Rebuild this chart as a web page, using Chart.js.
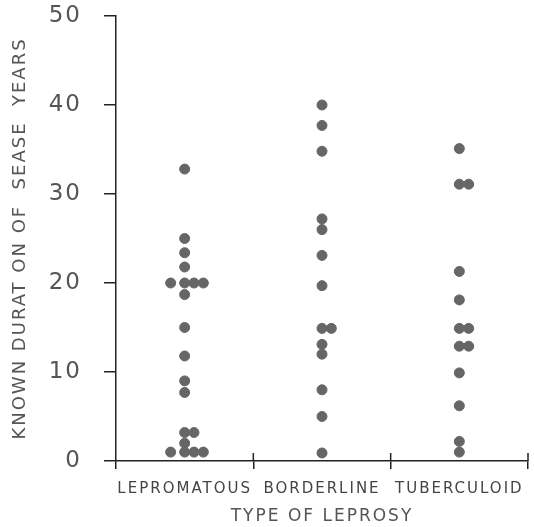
<!DOCTYPE html>
<html>
<head>
<meta charset="utf-8">
<script src="https://cdn.jsdelivr.net/npm/chart.js@4"></script>
<style>
  html, body { margin: 0; padding: 0; background: #fff; }
  #wrap { width: 534px; height: 527px; }
</style>
</head>
<body>
<div id="wrap"><canvas id="c"></canvas></div>
<script>
// categories and values (years)
var categories = ['LEPROMATOUS', 'BORDERLINE', 'TUBERCULOID'];
var lepromatous = [32.8, 25, 23.4, 21.8, 20, 20, 20, 20, 18.7, 15, 11.8, 9, 7.7, 3.2, 3.2, 2, 1, 1, 1, 1];
var borderline = [40, 37.7, 34.8, 27.2, 26, 23.1, 19.7, 14.9, 14.9, 13.1, 12, 8, 5, 0.9];
var tuberculoid = [35.1, 31.1, 31.1, 21.3, 18.1, 14.9, 14.9, 12.9, 12.9, 9.9, 6.2, 2.2, 1];
var yTicks = [0, 10, 20, 30, 40, 50];

// tied values are spread sideways: centre, right, right, left
var jitter = [0, 1, 2, -1.5];
var jitterStep = 0.068;

function toPoints(values, catIndex) {
  var seen = {};
  return values.map(function (v) {
    var k = seen[v] || 0;
    seen[v] = k + 1;
    return { x: catIndex + 1 + jitter[k % jitter.length] * jitterStep, y: v };
  });
}

var allSeries = [lepromatous, borderline, tuberculoid];
var pts = [];
allSeries.forEach(function (vals, i) { pts = pts.concat(toPoints(vals, i)); });

var axisColor = '#222';
var textColor = '#555';

// little marks that cross the x axis upward at the category borders
var crossTicks = {
  id: 'crossTicks',
  afterDraw: function (chart) {
    var xs = chart.scales.x, ctx = chart.ctx, bottom = chart.chartArea.bottom;
    ctx.save();
    ctx.strokeStyle = axisColor;
    ctx.lineWidth = 1.5;
    [1.5, 2.5, 3.5].forEach(function (v) {
      var px = xs.getPixelForValue(v);
      ctx.beginPath();
      ctx.moveTo(px, bottom - 8);
      ctx.lineTo(px, bottom);
      ctx.stroke();
    });
    ctx.restore();
  }
};

var spacing = {
  id: 'spacing',
  beforeDraw: function (chart) { chart.ctx.letterSpacing = '2px'; }
};

new Chart(document.getElementById('c'), {
  type: 'scatter',
  data: {
    datasets: [{
      data: pts,
      backgroundColor: '#666',
      borderColor: '#666',
      pointRadius: 5,
      pointHoverRadius: 5
    }]
  },
  plugins: [spacing, crossTicks],
  options: {
    responsive: true,
    maintainAspectRatio: false,
    animation: false,
    layout: { padding: { top: 16, right: 4, left: 0, bottom: 0 } },
    plugins: { legend: { display: false }, tooltip: { enabled: false } },
    scales: {
      x: {
        type: 'linear',
        min: 0.5,
        max: 3.5,
        afterBuildTicks: function (scale) {
          scale.ticks = categories.map(function (c, i) { return { value: i + 1 }; });
        },
        afterFit: function (scale) {
          scale.height = 66;
          scale.paddingLeft = 0;
          scale.paddingRight = 0;
        },
        ticks: {
          color: '#444',
          padding: 11,
          maxRotation: 0,
          autoSkip: false,
          font: { family: 'DejaVu Sans', size: 15 },
          callback: function (v) { return categories[v - 1]; }
        },
        grid: { offset: true, drawOnChartArea: false, tickLength: 8, color: axisColor, lineWidth: 1.5 },
        border: { color: axisColor, width: 1.5 },
        title: {
          display: true,
          text: 'TYPE OF LEPROSY',
          color: textColor,
          padding: { top: 0, bottom: 0 },
          font: { family: 'DejaVu Sans', size: 17 }
        }
      },
      y: {
        min: 0,
        max: 50,
        afterBuildTicks: function (scale) {
          scale.ticks = yTicks.map(function (v) { return { value: v }; });
        },
        afterFit: function (scale) {
          scale.width = 116;
          scale.paddingTop = 0;
          scale.paddingBottom = 0;
        },
        ticks: {
          color: textColor,
          padding: 22,
          font: { family: 'DejaVu Sans', size: 23 }
        },
        grid: { drawOnChartArea: false, tickLength: 12, color: axisColor, lineWidth: 1.5 },
        border: { color: axisColor, width: 1.5 },
        title: {
          display: true,
          text: 'KNOWN DURAT ON OF  SEASE  YEARS',
          color: textColor,
          padding: { top: 10, bottom: 0 },
          font: { family: 'DejaVu Sans', size: 18 }
        }
      }
    }
  }
});
</script>
</body>
</html>
